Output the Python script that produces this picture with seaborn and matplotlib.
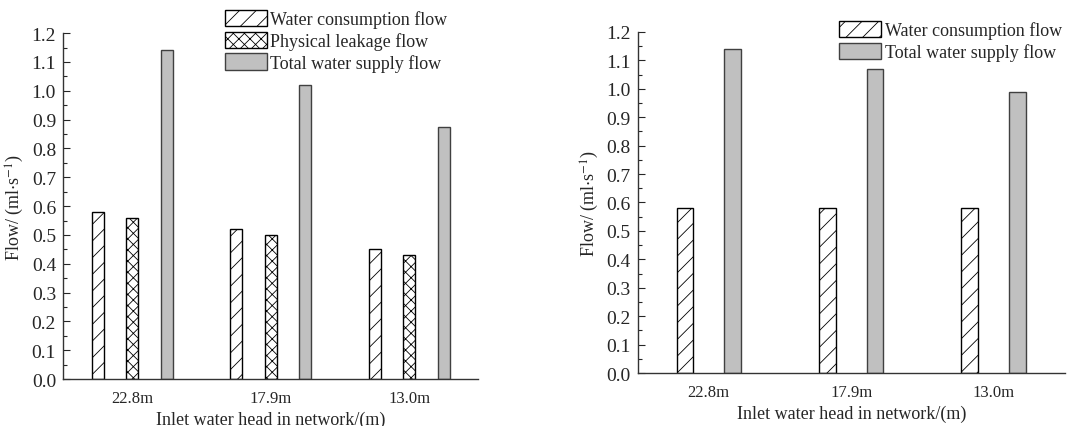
import pandas as pd
import matplotlib
matplotlib.use("Agg")
import matplotlib.pyplot as plt
import seaborn as sns

heads = ["22.8m", "17.9m", "13.0m"]

# left panel
left_consumption = [0.58, 0.52, 0.45]
left_leakage = [0.56, 0.50, 0.43]
left_total = [1.14, 1.02, 0.875]

# right panel
right_consumption = [0.58, 0.58, 0.58]
right_total = [1.14, 1.07, 0.99]

SERIES = ["Water consumption flow", "Physical leakage flow", "Total water supply flow"]
HATCH = {SERIES[0]: "//", SERIES[1]: "xxx", SERIES[2]: ""}
FACE = {SERIES[0]: "white", SERIES[1]: "white", SERIES[2]: "#c0c0c0"}
EDGE = {SERIES[0]: "black", SERIES[1]: "black", SERIES[2]: "#404040"}


def to_long(cols):
    rows = []
    for name, vals in cols.items():
        for h, v in zip(heads, vals):
            rows.append({"Head": h, "Series": name, "Flow": v})
    return pd.DataFrame(rows)


df_left = to_long({SERIES[0]: left_consumption, SERIES[1]: left_leakage, SERIES[2]: left_total})
df_right = to_long({SERIES[0]: right_consumption, SERIES[2]: right_total})

sns.set_theme(style="ticks")
plt.rcParams["font.family"] = ["Liberation Serif", "DejaVu Serif"]
plt.rcParams["mathtext.fontset"] = "stix"
plt.rcParams["hatch.linewidth"] = 0.6
plt.rcParams["hatch.color"] = "black"

fig = plt.figure(figsize=(10.68, 4.27), dpi=100)
ax1 = fig.add_axes([0.059, 0.110, 0.389, 0.810])
ax2 = fig.add_axes([0.597, 0.124, 0.400, 0.799])


def draw(ax, df, width, gap, legend_anchor):
    order = [s for s in SERIES if s in df["Series"].unique()]
    sns.barplot(data=df, x="Head", y="Flow", hue="Series", hue_order=order,
                order=heads, width=width, gap=gap, legend=False, ax=ax,
                palette={s: FACE[s] for s in order}, saturation=1)
    for cont, name in zip(ax.containers, order):
        for p in cont.patches:
            p.set_facecolor(FACE[name])
            p.set_edgecolor(EDGE[name])
            p.set_hatch(HATCH[name])
            p.set_linewidth(1.0)
    ax.set_xlim(-0.5, 2.5)
    ax.set_ylim(0, 1.2)
    ax.set_yticks([i / 10 for i in range(13)])
    ax.set_yticks([i / 20 for i in range(25)], minor=True)
    ax.yaxis.set_major_formatter(matplotlib.ticker.FormatStrFormatter("%.1f"))
    ax.tick_params(axis="y", direction="in", length=5, width=0.8, labelsize=14, pad=5)
    ax.tick_params(axis="y", which="minor", direction="in", length=3, width=0.8)
    ax.tick_params(axis="x", length=0, labelsize=12, pad=8)
    for s in ["top", "right"]:
        ax.spines[s].set_visible(False)
    for s in ["left", "bottom"]:
        ax.spines[s].set_color("#333333")
        ax.spines[s].set_linewidth(1.0)
    ax.set_xlabel("Inlet water head in network/(m)", fontsize=13, labelpad=3)
    ax.set_ylabel(r"Flow/ (ml$\cdot$s$^{-1}$)", fontsize=13, labelpad=4)
    ax.legend(ax.containers, order, loc="upper left", bbox_to_anchor=legend_anchor,
              bbox_transform=fig.transFigure, frameon=False, fontsize=13,
              handlelength=2.3, handleheight=1.0, handletextpad=0.2,
              labelspacing=0.2, borderaxespad=0, borderpad=0)


draw(ax1, df_left, 0.75, 0.655, (0.211, 0.975))
draw(ax2, df_right, 0.67, 0.65, (0.786, 0.948))

fig.savefig("out.png", dpi=100)
